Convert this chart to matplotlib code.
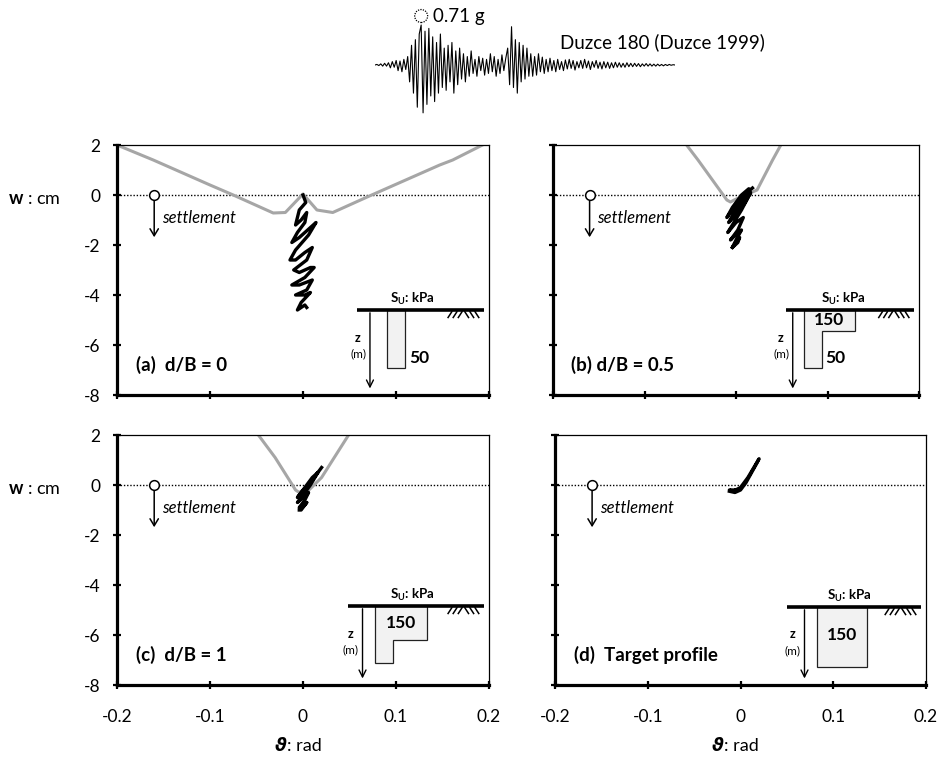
import numpy as np
import matplotlib
matplotlib.use("Agg")
import matplotlib.pyplot as plt
from matplotlib.patches import Polygon, Ellipse

plt.rcParams['font.family'] = ['Lato', 'DejaVu Sans']
plt.rcParams['axes.unicode_minus'] = False
plt.rcParams['mathtext.fontset'] = 'custom'
plt.rcParams['mathtext.rm'] = 'Lato:bold'
plt.rcParams['mathtext.bf'] = 'Lato:bold'

W, H = 940, 757

# Duzce 180 accelerogram (g)
acc = [0, 0.01, -0.01, 0.02, -0.02, 0.03, -0.02, 0.04, -0.05, 0.06, -0.04, 0.08,
       -0.1, 0.07, -0.12, 0.1, -0.08, 0.15,
       -0.3, 0.35, -0.5, 0.45, -0.75, 0.55, 0.71, -0.85, 0.6, -0.7, 0.65, -0.55,
       0.5, -0.65, 0.4, -0.5, 0.55, -0.4, 0.3, -0.45, 0.35, -0.3, 0.4, -0.5, 0.25,
       -0.35, 0.3,
       -0.25, 0.2, -0.3, 0.15, -0.2, 0.25, -0.15, 0.1, -0.2, 0.15, -0.1, 0.12,
       -0.18, 0.1, -0.15, 0.2, -0.12, 0.15, -0.2, 0.1, -0.15, 0.18, -0.1, 0.12,
       0.3, -0.35, 0.68, -0.4, 0.45, -0.5, 0.4, -0.3, 0.35, -0.25, 0.3, -0.2, 0.2,
       -0.2, 0.15, -0.18, 0.2, -0.12, 0.14, -0.15, 0.1, -0.12, 0.12,
       -0.1, 0.08, -0.12, 0.1, -0.08, 0.06, -0.1, 0.09, -0.07, 0.1, -0.06, 0.08,
       -0.09, 0.06, -0.05, 0.08, -0.06, 0.1, -0.05, 0.07, -0.08, 0.06, -0.04,
       0.08, -0.06, 0.05, -0.07, 0.06, -0.05, 0.05, -0.06, 0.04, -0.05, 0.05,
       -0.04, 0.04, -0.04, 0.03, -0.04, 0.04, -0.03, 0.03, -0.03, 0.03, -0.025,
       0.025, -0.03, 0.02, -0.02, 0.025, -0.02, 0.02, -0.02, 0.015, -0.02, 0.015,
       -0.015, 0.01, -0.015, 0.01, -0.01, 0.01, -0.005, 0.005, 0]

THETA_TICKS = [-0.2, -0.1, 0, 0.1, 0.2]
THETA_LABELS = ['-0.2', '-0.1', '0', '0.1', '0.2']
W_TICKS = [2, 0, -2, -4, -6, -8]
W_LABELS = ['2', '0', '-2', '-4', '-6', '-8']

# grey curves (rigid-soil reference), theta [rad] / w [cm]
grey_a_theta = [-0.2, -0.161, -0.1, -0.075, -0.032, -0.019, 0.0, 0.015, 0.032, 0.069, 0.147, 0.161, 0.193]
grey_a_w = [2.0, 1.4, 0.4, 0.0, -0.72, -0.7, 0.04, -0.6, -0.7, -0.08, 1.2, 1.4, 2.0]
grey_b_theta = [-0.054, -0.0415, -0.01, -0.006, -0.002, 0.004, 0.023, 0.040, 0.049]
grey_b_w = [2.0, 1.4, -0.2, -0.28, -0.2, -0.1, 0.2, 1.4, 2.0]
grey_c_theta = [-0.048, -0.03, -0.008, -0.004, 0.0, 0.005, 0.02, 0.049]
grey_c_w = [2.0, 1.1, -0.2, -0.3, -0.2, -0.25, 0.3, 2.0]

# black curves (computed response)
black_a_theta = [0, 0.003, -0.004, -0.008, -0.002, 0.004, 0.002, -0.006, -0.012, -0.004,
                 0.008, 0.014, 0.006, -0.008, -0.014, -0.008, 0.002, 0.010, 0.004, -0.010,
                 -0.004, 0.008, 0.012, 0.002, -0.012, -0.004, 0.010, 0.004, -0.008, 0.002,
                 0.008, -0.002, -0.006, 0.002, 0.004]
black_a_w = [0, -0.3, -0.6, -1.2, -1.0, -0.7, -1.1, -1.5, -1.9, -1.7,
             -1.3, -1.1, -1.6, -2.2, -2.6, -2.6, -2.3, -2.1, -2.6, -3.0,
             -3.1, -2.9, -2.9, -3.3, -3.6, -3.6, -3.4, -3.8, -4.0, -4.0,
             -3.9, -4.3, -4.6, -4.4, -4.5]
black_b_theta = [0.018, 0.012, 0.004, -0.006, -0.01, -0.004, 0.006, 0.014, 0.008, -0.002,
                 -0.008, 0.0, 0.01, 0.016, 0.006, -0.004, -0.009, 0.0, 0.008, 0.002,
                 -0.006, 0.002, 0.006, 0.0, -0.004, 0.002, 0.004, -0.002, -0.004]
black_b_w = [0.28, 0.1, -0.3, -0.7, -0.9, -0.5, 0.0, 0.25, -0.2, -0.7,
             -1.1, -0.8, -0.3, 0.1, -0.6, -1.2, -1.5, -1.1, -0.9, -1.4,
             -1.8, -1.5, -1.4, -1.8, -2.1, -1.9, -1.7, -2.0, -2.1]
black_c_theta = [0.02, 0.014, 0.006, -0.002, -0.006, 0.0, 0.01, 0.016, 0.008, 0.0,
                 -0.006, 0.0, 0.006, 0.002, -0.004, 0.002, 0.004, -0.002, -0.004]
black_c_w = [0.7, 0.4, 0.0, -0.3, -0.5, -0.2, 0.3, 0.5, 0.0, -0.4,
             -0.7, -0.5, -0.3, -0.6, -0.9, -0.8, -0.7, -1.0, -1.0]
black_d_theta = [-0.012, -0.006, 0.0, 0.006, 0.012, 0.018, 0.02, 0.016, 0.008, 0.0,
                 -0.008, -0.012, -0.004]
black_d_w = [-0.25, -0.3, -0.2, 0.1, 0.5, 0.9, 1.05, 0.8, 0.3, -0.1,
             -0.25, -0.2, -0.2]

fig = plt.figure(figsize=(W / 100, H / 100), dpi=100)


def px_rect(l, t, r, b):
    return [l / W, 1 - b / H, (r - l) / W, (b - t) / H]


# ---- accelerogram on top
axq = fig.add_axes(px_rect(375, 15, 675, 120))
axq.plot(acc, color='black', lw=0.8)
axq.set_xlim(0, len(acc) - 1)
axq.set_ylim(-0.977, 0.888)
axq.axis('off')
ipk = int(np.argmax(acc))
sx = (len(acc) - 1) / 300.0   # samples per pixel
sy = 1.865 / 105.0            # g per pixel
axq.add_patch(Ellipse((ipk, acc[ipk] + 9 * sy), 13 * sx, 13 * sy, fill=False,
                      ls=(0, (1, 1)), lw=0.9, color='black', clip_on=False))
axq.annotate('0.71 g', xy=(ipk, acc[ipk] + 9 * sy), xytext=(12, 0),
             textcoords='offset pixels', fontsize=13.5, va='center', ha='left')
fig.text(560 / W, 1 - 42 / H, 'Duzce 180 (Duzce 1999)', fontsize=13.5,
         ha='left', va='center')


def panel(rect, xlab, ylab):
    ax = fig.add_axes(px_rect(*rect))
    ax.set_xlim(-0.2, 0.2)
    ax.set_ylim(-8, 2)
    ax.set_xticks(THETA_TICKS)
    ax.set_xticklabels(THETA_LABELS)
    ax.set_yticks(W_TICKS)
    ax.set_yticklabels(W_LABELS)
    for s in ['left', 'bottom']:
        ax.spines[s].set_linewidth(2.3)
    for s in ['top', 'right']:
        ax.spines[s].set_linewidth(0.9)
    ax.tick_params(direction='inout', length=6, width=1.6, labelsize=12.5,
                   top=False, right=False, labelbottom=xlab, labelleft=ylab)
    ax.tick_params(axis='x', pad=14)
    ax.tick_params(axis='y', pad=9)
    ax.axhline(0, color='black', lw=1.0, ls=(0, (1, 1.3)), zorder=1)
    # settlement marker
    ax.annotate('', xy=(-0.16, -1.8), xytext=(-0.16, -0.12),
                arrowprops=dict(arrowstyle='->,head_length=0.5,head_width=0.3',
                                lw=1.1, color='black'))
    ax.plot(-0.16, 0, 'o', ms=7, mfc='white', mec='black', mew=1.1, zorder=6)
    ax.text(-0.152, -0.92, 'settlement', style='italic', fontsize=12,
            ha='left', va='center')
    return ax


def profile(ax, g, gx0, box, labels, arrow_x):
    gx1 = 0.195
    ax.plot([gx0, gx1], [g, g], color='black', lw=2.6, solid_capstyle='butt', zorder=5)
    ax.add_patch(Polygon(box, closed=True, fc='#f2f2f2', ec='#222222', lw=0.9, zorder=4))
    for i in range(3):
        x = 0.156 + i * 0.0055
        ax.plot([x, x + 0.004], [g - 0.3, g - 0.07], color='black', lw=1.1)
        x2 = 0.174 + i * 0.0055
        ax.plot([x2, x2 + 0.004], [g - 0.07, g - 0.3], color='black', lw=1.1)
    ax.text(0.117, g + 0.12, r'$\mathrm{S_U}$: kPa', fontsize=9.5, fontweight='bold',
            ha='center', va='bottom')
    ax.annotate('', xy=(arrow_x, -7.85), xytext=(arrow_x, g),
                arrowprops=dict(arrowstyle='->,head_length=0.5,head_width=0.25',
                                lw=1.0, color='black'))
    ax.text(arrow_x - 0.010, g - 1.1, 'z', fontsize=9, fontweight='bold',
            ha='right', va='center')
    ax.text(arrow_x - 0.004, g - 1.75, '(m)', fontsize=8.5, ha='right', va='center')
    for txt, x, y, ha in labels:
        ax.text(x, y, txt, fontsize=12.5, fontweight='bold', ha=ha, va='center', zorder=6)


ax_a = panel((117, 145, 489, 395), False, True)
ax_b = panel((553, 145, 919, 395), False, False)
ax_c = panel((117, 435, 489, 685), True, True)
ax_d = panel((555, 435, 926, 685), True, False)

ax_a.plot(grey_a_theta, grey_a_w, color='#a6a6a6', lw=2.2)
ax_a.plot(black_a_theta, black_a_w, color='black', lw=2.4, solid_joinstyle='round')
ax_b.plot(grey_b_theta, grey_b_w, color='#a6a6a6', lw=2.2)
ax_b.plot(black_b_theta, black_b_w, color='black', lw=2.4, solid_joinstyle='round')
ax_c.plot(grey_c_theta, grey_c_w, color='#a6a6a6', lw=2.2)
ax_c.plot(black_c_theta, black_c_w, color='black', lw=2.4, solid_joinstyle='round')
ax_d.plot(black_d_theta, black_d_w, color='black', lw=2.4, solid_joinstyle='round')

profile(ax_a, -4.6, 0.058,
        [(0.09, -4.6), (0.11, -4.6), (0.11, -6.92), (0.09, -6.92)],
        [('50', 0.114, -6.5, 'left')], 0.072)
profile(ax_b, -4.6, 0.055,
        [(0.074, -4.6), (0.130, -4.6), (0.130, -5.45), (0.094, -5.45), (0.094, -6.92), (0.074, -6.92)],
        [('150', 0.102, -5.0, 'center'), ('50', 0.098, -6.5, 'left')], 0.062)
profile(ax_c, -4.84, 0.048,
        [(0.077, -4.84), (0.133, -4.84), (0.133, -6.2), (0.097, -6.2), (0.097, -7.12), (0.077, -7.12)],
        [('150', 0.105, -5.5, 'center')], 0.064)
profile(ax_d, -4.88, 0.05,
        [(0.0825, -4.88), (0.136, -4.88), (0.136, -7.28), (0.0825, -7.28)],
        [('150', 0.109, -6.0, 'center')], 0.069)

ax_a.text(-0.18, -6.8, '(a)  d/B = 0', fontsize=13.5, fontweight='bold', va='center')
ax_b.text(-0.18, -6.8, '(b) d/B = 0.5', fontsize=13.5, fontweight='bold', va='center')
ax_c.text(-0.18, -6.8, '(c)  d/B = 1', fontsize=13.5, fontweight='bold', va='center')
ax_d.text(-0.18, -6.8, '(d)  Target profile', fontsize=13.5, fontweight='bold', va='center')

# axis titles
for yc in (199, 489):
    fig.text(8 / W, 1 - yc / H, r'$\mathbf{w}$ : cm', fontsize=13, ha='left', va='center')
for xc in (303, 740):
    fig.text((xc - 16) / W, 1 - 746 / H, '\u03d1', family='DejaVu Sans', fontweight='bold',
             style='italic', fontsize=13, ha='right', va='center')
    fig.text((xc - 16) / W, 1 - 746 / H, ': rad', fontsize=13, ha='left', va='center')

fig.savefig('out.png', dpi=100)
